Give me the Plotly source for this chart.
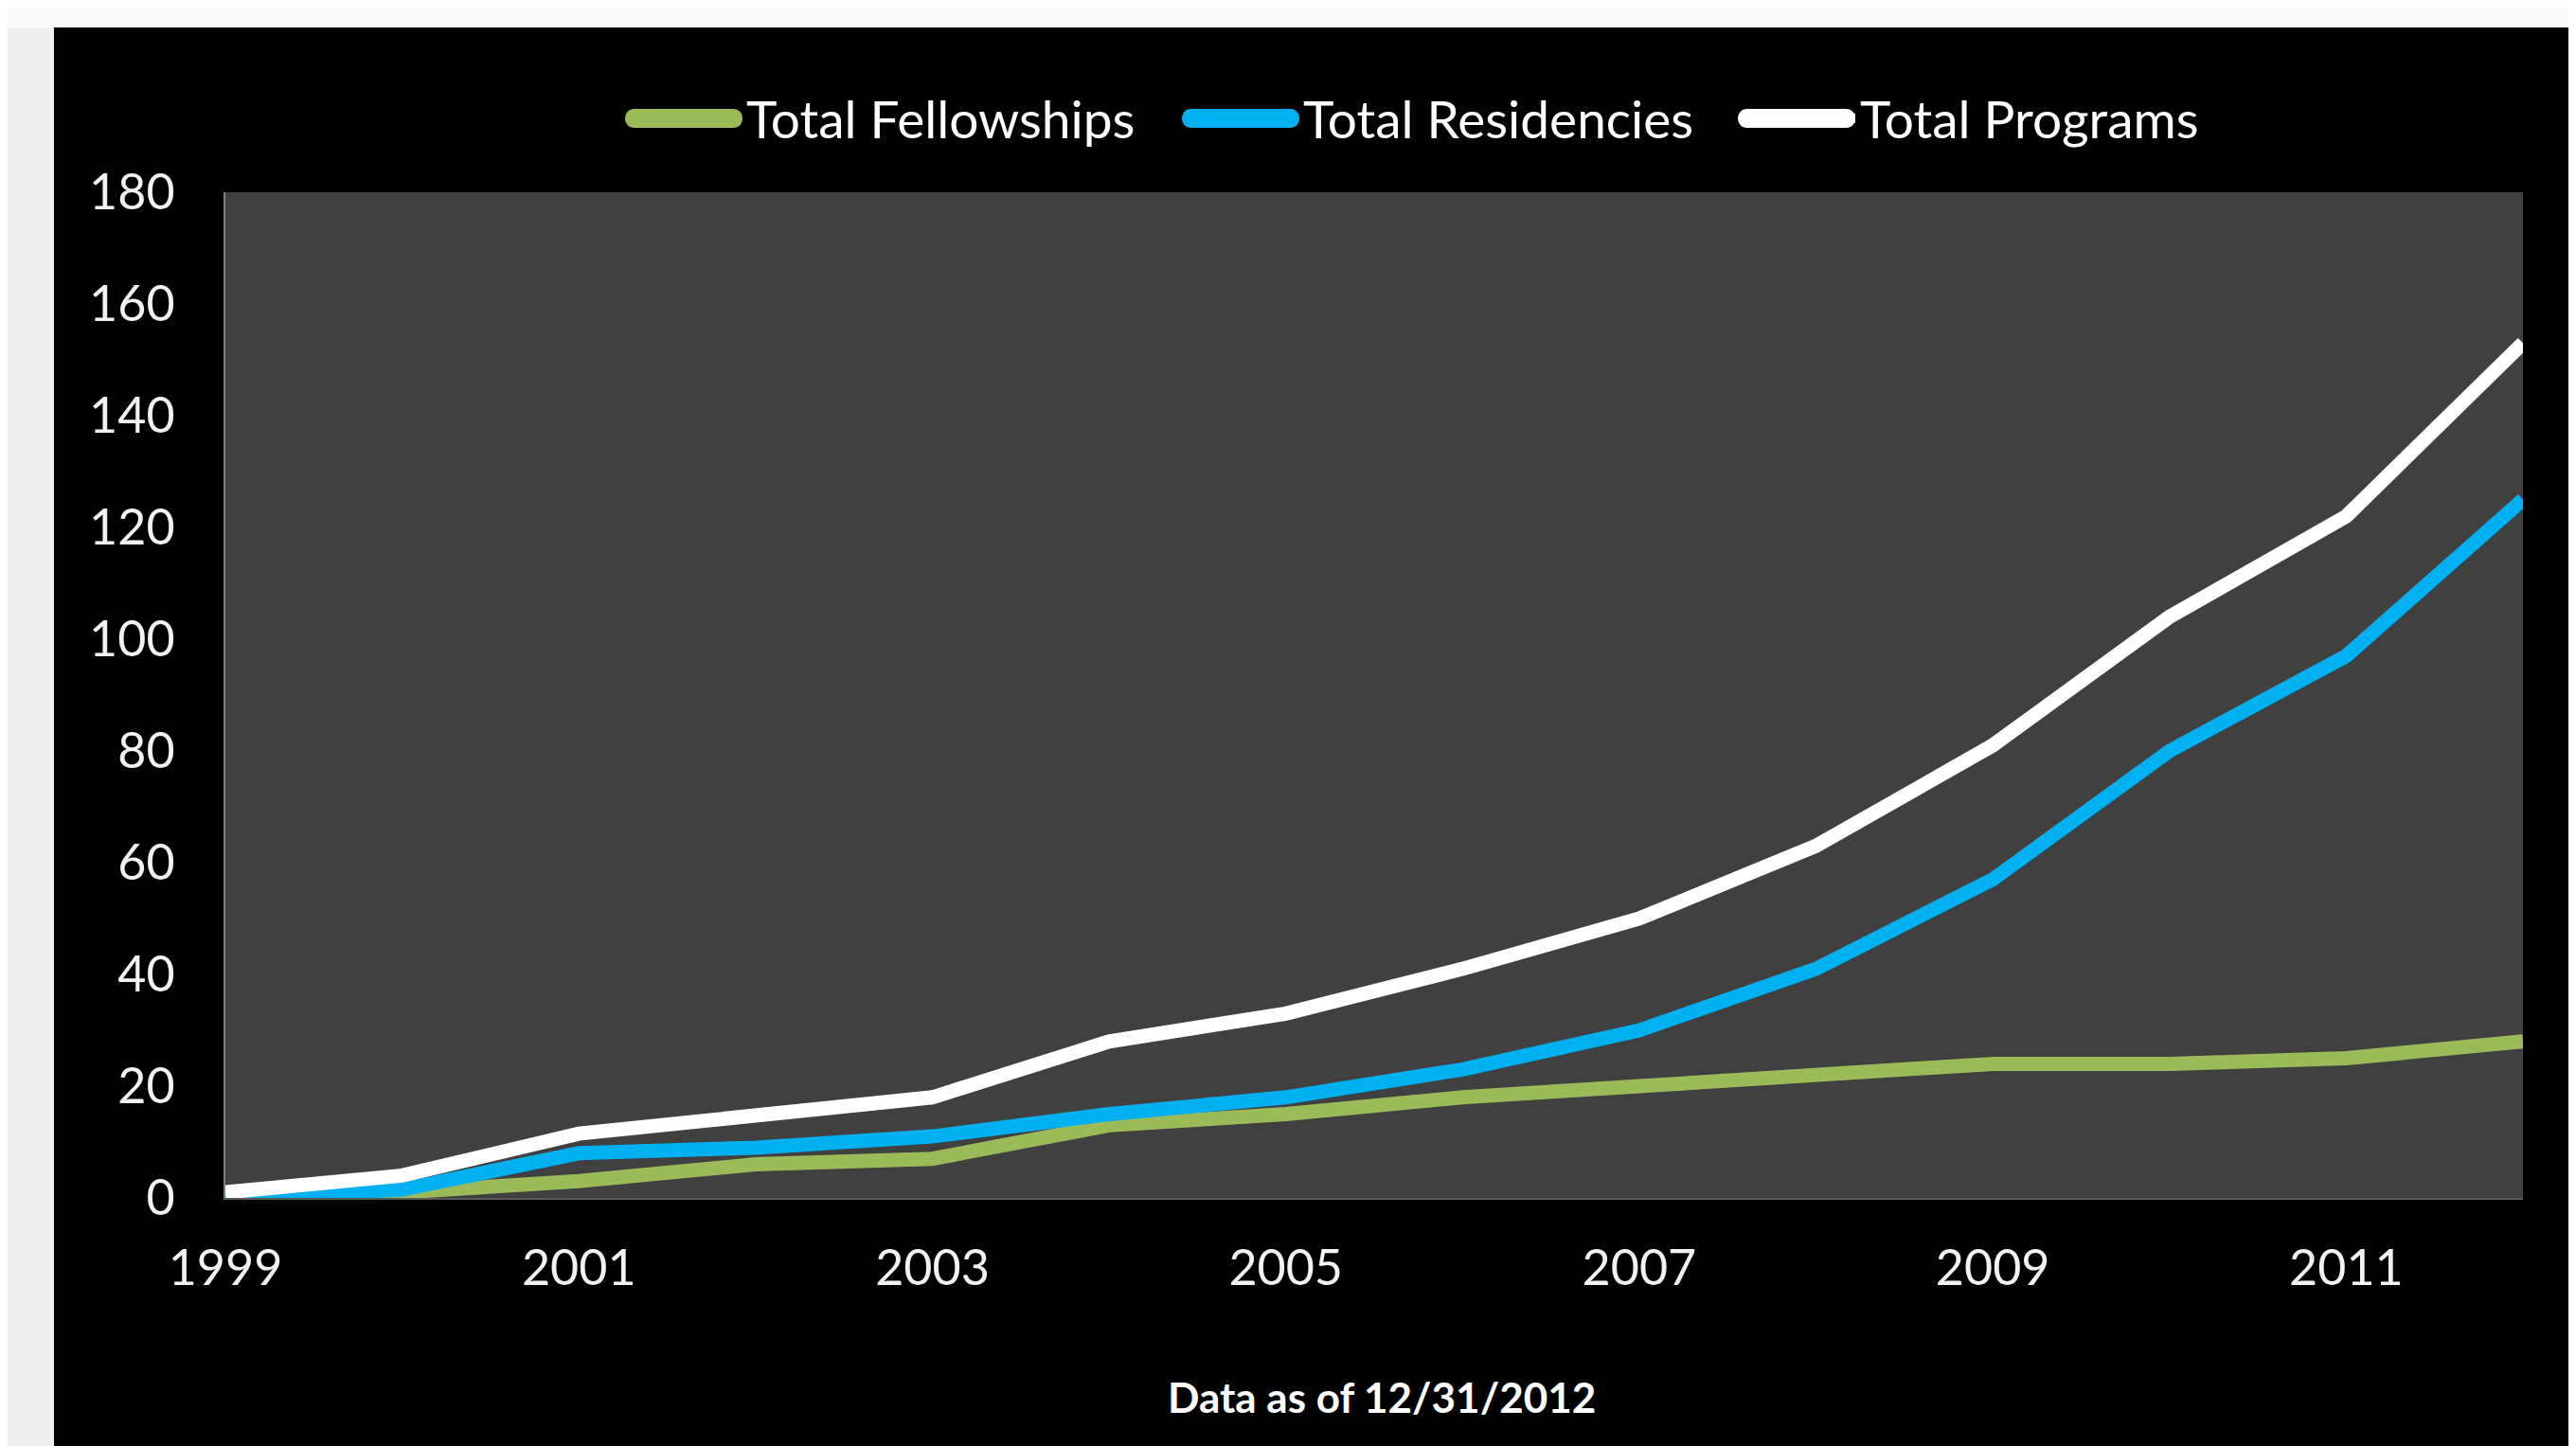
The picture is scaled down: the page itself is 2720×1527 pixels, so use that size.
import plotly.graph_objects as go

years = list(range(1999, 2013))
fellowships = [0, 1, 3, 6, 7, 13, 15, 18, 20, 22, 24, 24, 25, 28]
residencies = [0, 1.5, 8, 9, 11, 15, 18, 23, 30, 41, 57, 80, 97, 125]
programs = [1, 4, 11.5, 15, 18, 28, 33, 41, 50, 63, 81, 104, 122, 153]

series_names = ["Total Fellowships", "Total Residencies", "Total Programs"]
series_colors = ["#9BBB59", "#00B0F0", "#FFFFFF"]
series_values = [fellowships, residencies, programs]

y_ticks = list(range(0, 181, 20))
x_ticks = list(range(1999, 2012, 2))
footnote = "Data as of 12/31/2012"

W, H = 2720, 1527
OFF = 8  # page body margin offset
# desired on-screen plot area: x 238..2664, y 203..1265
ML = 238 - OFF
MT = 203 - OFF
MR = W - (2664 - OFF)
MB = H - (1265 - OFF)
pw, ph = W - ML - MR, H - MT - MB

def px_x(p):
    return (p - OFF - ML) / pw

def px_y(p):
    return (H - MB - (p - OFF)) / ph

fig = go.Figure()
for name, color, vals in zip(series_names, series_colors, series_values):
    fig.add_trace(go.Scatter(
        x=years, y=vals, name=name, mode="lines",
        line=dict(color=color, width=15),
    ))

font_family = "Lato, 'Open Sans', sans-serif"

# rounded legend swatches (centres in on-screen pixels), drawn under the legend
swatch_centres = [722, 1310, 1897]
pill = "M -52,-10 L 52,-10 C 65.3,-10 65.3,10 52,10 L -52,10 C -65.3,10 -65.3,-10 -52,-10 Z"
shapes = [
    dict(type="rect", xref="paper", yref="paper",
         x0=px_x(0), x1=px_x(W + 20), y0=px_y(0), y1=px_y(29),
         fillcolor="#FAFAFA", line=dict(width=0), layer="below"),
    dict(type="rect", xref="paper", yref="paper",
         x0=px_x(0), x1=px_x(57), y0=px_y(29), y1=px_y(H + 20),
         fillcolor="#EFEFEF", line=dict(width=0), layer="below"),
]
for cx, color in zip(swatch_centres, series_colors):
    shapes.append(dict(
        type="path", xref="paper", yref="paper",
        xsizemode="pixel", ysizemode="pixel",
        xanchor=px_x(cx), yanchor=px_y(125),
        path=pill, fillcolor=color, line=dict(width=0), layer="above",
    ))

fig.update_layout(
    width=W, height=H,
    margin=dict(l=ML, r=MR, t=MT, b=MB, pad=0),
    paper_bgcolor="#000000",
    plot_bgcolor="#404040",
    font=dict(family=font_family, color="#F2F2F2", size=52),
    showlegend=True,
    legend=dict(
        orientation="h", x=px_x(1600), xanchor="center",
        y=px_y(125), yanchor="middle",
        font=dict(size=55, color="#FFFFFF"),
        bgcolor="rgba(0,0,0,0)",
        entrywidth=513, entrywidthmode="pixels",
        itemwidth=60,
        traceorder="normal",
    ),
    xaxis=dict(
        range=[1999, 2012], tickmode="array", tickvals=x_ticks,
        ticktext=[str(v) for v in x_ticks],
        showgrid=False, zeroline=False,
        showline=True, linecolor="#595959", linewidth=2,
        ticks="", ticklabelstandoff=28,
        tickfont=dict(size=52, color="#F2F2F2"),
    ),
    yaxis=dict(
        range=[0, 180], tickmode="array", tickvals=y_ticks,
        ticktext=[str(v) for v in y_ticks],
        showgrid=False, zeroline=False,
        showline=True, linecolor="#808080", linewidth=2,
        ticks="", ticklabelstandoff=41,
        tickfont=dict(size=52, color="#F2F2F2"),
    ),
    shapes=shapes,
    annotations=[
        dict(text="<b>" + footnote + "</b>", xref="paper", yref="paper",
             x=px_x(1459), y=px_y(1475), xanchor="center", yanchor="middle",
             showarrow=False, font=dict(size=44, color="#FFFFFF", family=font_family)),
    ],
)

fig.write_html("out.html")
